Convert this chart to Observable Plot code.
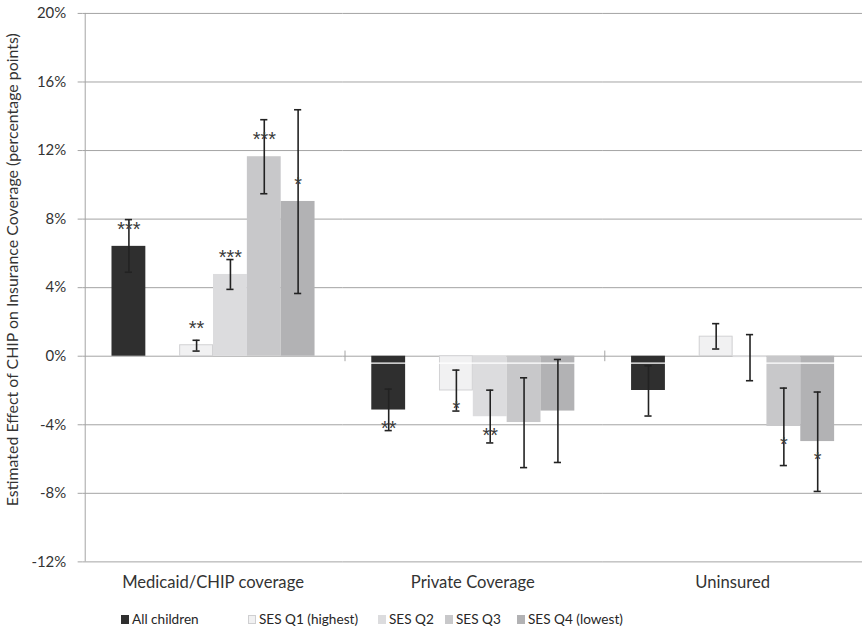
<!DOCTYPE html>
<html>
<head>
<meta charset="utf-8">
<script src="https://cdn.jsdelivr.net/npm/d3@7"></script>
<script src="https://cdn.jsdelivr.net/npm/@observablehq/plot@0.6"></script>
<style>
  html, body { margin: 0; padding: 0; background: #fff; }
  #wrap { position: relative; width: 862px; height: 634px; overflow: hidden; font-family: Lato, "Open Sans", sans-serif; }
  #legend { position: absolute; left: 0; top: 600px; width: 862px; height: 34px; font-size: 13.6px; color: #262626; }
  .item { position: absolute; top: 11px; white-space: nowrap; }
  .sw { position: absolute; left: 0; top: 4px; width: 8px; height: 9px; box-sizing: border-box; }
  .lbl { position: absolute; top: 0; }
</style>
</head>
<body>
<div id="wrap"><div id="chart"></div><div id="legend"></div></div>
<script>
// ---- data (percentage points) ----
const groups = ["Medicaid/CHIP coverage", "Private Coverage", "Uninsured"];
const series = ["All children", "SES Q1 (highest)", "SES Q2", "SES Q3", "SES Q4 (lowest)"];
const colors = ["#2f2f2f", "#f1f1f2", "#dcdcde", "#c8c8ca", "#b2b2b4"];
const yTicks = [-12, -8, -4, 0, 4, 8, 12, 16, 20];
const yLabel = "Estimated Effect of CHIP on Insurance Coverage (percentage points)";

const medicaidEst = [6.41, 0.64, 4.77, 11.64, 9.03];
const medicaidLow = [4.9, 0.3, 3.9, 9.48, 3.66];
const medicaidHigh = [7.97, 0.93, 5.64, 13.8, 14.38];
const medicaidStars = ["***", "**", "***", "***", "*"];

const privateEst = [-3.14, -2.0, -3.53, -3.87, -3.2];
const privateLow = [-4.34, -3.2, -5.06, -6.5, -6.2];
const privateHigh = [-1.92, -0.81, -1.98, -1.26, -0.19];
const privateStars = ["**", "*", "**", "", ""];

const uninsuredEst = [-2.0, 1.14, -0.08, -4.1, -4.98];
const uninsuredLow = [-3.49, 0.42, -1.43, -6.38, -7.89];
const uninsuredHigh = [-0.56, 1.9, 1.26, -1.86, -2.09];
const uninsuredStars = ["", "", "", "*", "*"];

// ---- build table ----
const est = [medicaidEst, privateEst, uninsuredEst];
const low = [medicaidLow, privateLow, uninsuredLow];
const high = [medicaidHigh, privateHigh, uninsuredHigh];
const stars = [medicaidStars, privateStars, uninsuredStars];
const rows = [];
groups.forEach((g, gi) => series.forEach((s, si) => rows.push({
  group: g, series: s, color: colors[si], value: est[gi][si], lo: low[gi][si], hi: high[gi][si], star: stars[gi][si]
})));
const slots = [series[0], "gap", ...series.slice(1)];
const gridColor = "#a3a3a3";
const bandOffset = -43.9;
const starFont = "'Liberation Sans', Arial, sans-serif";

const chart = Plot.plot({
  width: 866, height: 600,
  marginLeft: 82, marginRight: 0, marginTop: 13, marginBottom: 36,
  style: { fontFamily: "Lato, 'Open Sans', sans-serif", color: "#333", background: "white" },
  fx: { domain: groups, padding: 0, label: null },
  x: { domain: slots, paddingInner: 0, paddingOuter: 0.762, axis: null },
  y: { domain: [-12, 20], ticks: yTicks, label: null },
  marks: [
    Plot.ruleY(yTicks, { stroke: gridColor, strokeWidth: 1 }),
    Plot.axisY({ ticks: yTicks, tickFormat: d => d + "%", tickSize: 5, tickPadding: 12, stroke: gridColor, fontSize: 15, label: null }),
    Plot.axisFx({ anchor: "bottom", tickSize: 0, tickPadding: 14, fontSize: 16.7, label: null }),
    Plot.barY(rows, { fx: "group", x: "series", y: "value", fill: "color" }),
    Plot.barY(rows.filter(d => d.series === series[1]), { fx: "group", x: "series", y: "value", fill: "color", stroke: "#d2d2d4", strokeWidth: 1, insetLeft: 0.5, insetRight: 0.5 }),
    Plot.ruleY([-0.4], { stroke: "white", strokeWidth: 1.3 }),
    Plot.ruleX(rows, { fx: "group", x: "series", y1: "lo", y2: "hi", stroke: "#222", strokeWidth: 1.6 }),
    Plot.tickY(rows, { fx: "group", x: "series", y: "lo", stroke: "#222", strokeWidth: 1.6, insetLeft: 13.4, insetRight: 13.4 }),
    Plot.tickY(rows, { fx: "group", x: "series", y: "hi", stroke: "#222", strokeWidth: 1.6, insetLeft: 13.4, insetRight: 13.4 }),
    Plot.text(rows.filter(d => d.value > 0 && d.star), { fx: "group", x: "series", y: "value", text: "star", dy: -17, fontSize: 20, fontFamily: starFont, fill: "#3a3a3a" }),
    Plot.text(rows.filter(d => d.value < 0 && d.star), { fx: "group", x: "series", y: "value", text: "star", dy: 18.5, fontSize: 20, fontFamily: starFont, fill: "#3a3a3a" }),
    Plot.ruleX(groups.slice(1).map(g => ({ group: g })), { fx: "group", x: () => series[0], dx: bandOffset, y1: -0.32, y2: 0.3, stroke: gridColor }),
    Plot.ruleX([groups[0]], { fx: d => d, x: () => series[0], dx: bandOffset, y1: -12, y2: 20, stroke: gridColor }),
    Plot.text([groups[0]], { fx: d => d, frameAnchor: "left", textAnchor: "middle", text: () => yLabel, rotate: -90, dx: -71, dy: -18, fontSize: 16, fill: "#333" })
  ]
});
document.getElementById("chart").appendChild(chart);

// ---- legend ----
const legendX = [121, 248, 378, 445, 517];
const legend = document.getElementById("legend");
series.forEach((s, i) => {
  const it = document.createElement("div");
  it.className = "item";
  it.style.left = legendX[i] + "px";
  const sw = document.createElement("div");
  sw.className = "sw";
  sw.style.background = colors[i];
  if (i === 1) sw.style.border = "1px solid #cfcfd1";
  const lb = document.createElement("div");
  lb.className = "lbl";
  lb.style.left = "11px";
  lb.textContent = s;
  it.appendChild(sw); it.appendChild(lb);
  legend.appendChild(it);
});
</script>
</body>
</html>
